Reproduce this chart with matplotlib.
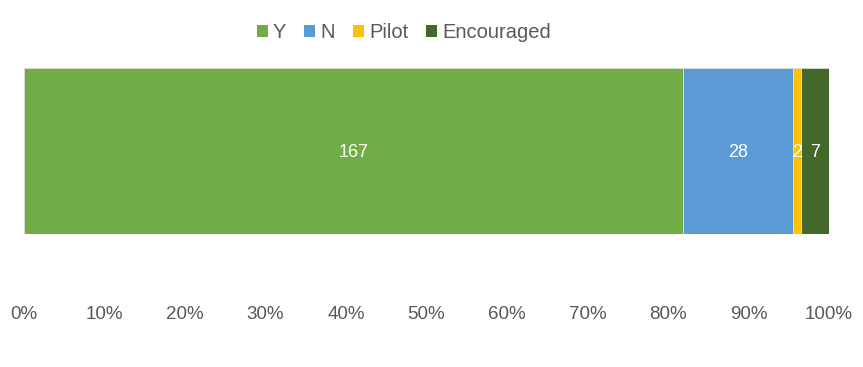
import matplotlib
matplotlib.use("Agg")
import matplotlib.pyplot as plt
from matplotlib.ticker import PercentFormatter
from matplotlib.patches import Patch

# Response counts, stacked to 100%
categories = ["Y", "N", "Pilot", "Encouraged"]
counts = [167, 28, 2, 7]
colors = ["#70AD47", "#5B9BD5", "#FFC000", "#43682B"]

TEXT_COLOR = "#595959"

plt.rcParams["font.family"] = ["Liberation Sans", "DejaVu Sans"]

fig = plt.figure(figsize=(8.63, 3.67), dpi=100)
ax = fig.add_axes([24 / 863, 1 - 234 / 367, (829 - 24) / 863, (234 - 68) / 367])

total = sum(counts)
left = 0.0
for name, value, color in zip(categories, counts, colors):
    share = value / total * 100
    ax.barh(0, share, left=left, height=1.0, color=color,
            edgecolor="#dddddd", linewidth=0.6)
    ax.text(left + share / 2, -0.01, str(value), color="white", fontsize=13,
            ha="center", va="center")
    left += share

ax.set_xlim(0, 100)
ax.set_ylim(-0.5, 0.5)
ax.set_xticks(range(0, 101, 10))
ax.xaxis.set_major_formatter(PercentFormatter(decimals=0))
ax.tick_params(axis="x", length=0, pad=52, labelsize=13.5, labelcolor=TEXT_COLOR)
ax.set_yticks([])
for spine in ax.spines.values():
    spine.set_visible(False)

handles = [Patch(facecolor=c, edgecolor="none") for c in colors]
fig.legend(handles, categories, loc="center", bbox_to_anchor=(0.468, 1 - 33 / 367),
           ncol=4, frameon=False, fontsize=14.5, labelcolor=TEXT_COLOR,
           handlelength=0.55, handleheight=0.55, handletextpad=0.25, columnspacing=0.9)

fig.savefig("out.png", dpi=100)
